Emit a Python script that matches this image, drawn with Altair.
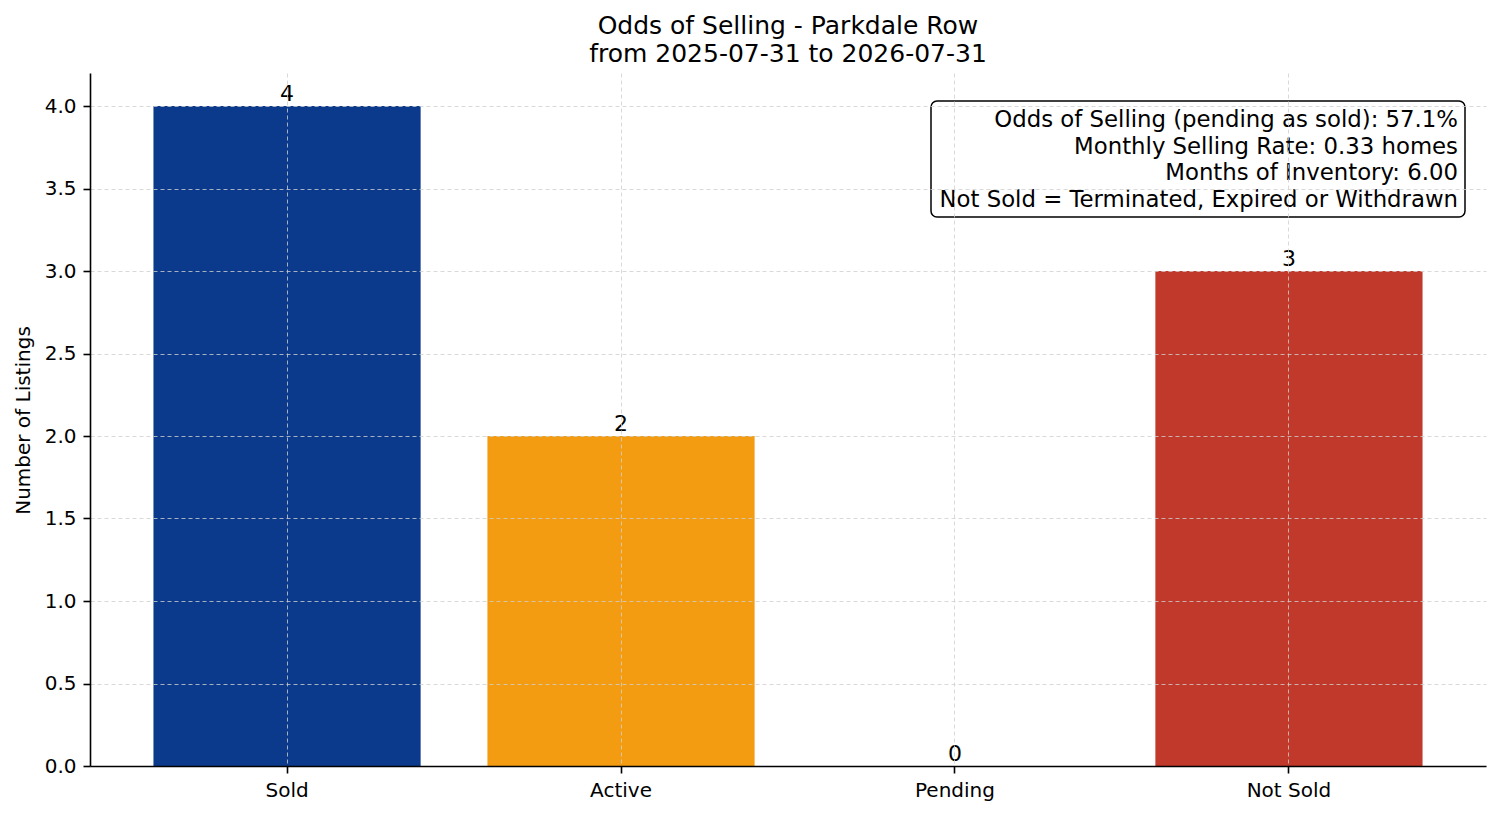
import altair as alt
import pandas as pd

categories = ["Sold", "Active", "Pending", "Not Sold"]
counts = [4, 2, 0, 3]
bar_colors = ["#0b3a8c", "#f39c12", "#f39c12", "#c0392b"]
y_ticks = [0.0, 0.5, 1.0, 1.5, 2.0, 2.5, 3.0, 3.5, 4.0]
title_lines = ["Odds of Selling - Parkdale Row", "from 2025-07-31 to 2026-07-31"]
box_lines = [
    "Odds of Selling (pending as sold): 57.1%",
    "Monthly Selling Rate: 0.33 homes",
    "Months of Inventory: 6.00",
    "Not Sold = Terminated, Expired or Withdrawn",
]

FONT = "DejaVu Sans"

df = pd.DataFrame({"status": categories, "count": counts})

x_enc = alt.X(
    "status:N",
    sort=categories,
    title=None,
    scale=alt.Scale(paddingInner=0.2, paddingOuter=0.19),
    axis=alt.Axis(
        labelAngle=0,
        labelFontSize=20,
        labelPadding=7,
        tickSize=7,
        tickWidth=1.6,
        tickColor="black",
        domainColor="black",
        domainWidth=1.6,
        grid=True,
        bandPosition=0.5,
        gridColor="#cfcfcf",
        gridDash=[4, 3],
        gridWidth=0.8,
        zindex=1,
    ),
)

y_enc = alt.Y(
    "count:Q",
    title="Number of Listings",
    scale=alt.Scale(domain=[0, 4.2], nice=False),
    axis=alt.Axis(
        values=y_ticks,
        format=".1f",
        labelFontSize=20,
        labelPadding=7,
        tickSize=7,
        tickWidth=1.6,
        tickColor="black",
        domainColor="black",
        domainWidth=1.6,
        gridColor="#cfcfcf",
        gridDash=[4, 3],
        gridWidth=0.8,
        titleFontSize=20,
        titleFontWeight="normal",
        titleX=-67,
        titleY=347,
        titleBaseline="middle",
        zindex=1,
    ),
)

bars = (
    alt.Chart(df)
    .mark_bar()
    .encode(
        x=x_enc,
        y=y_enc,
        color=alt.Color(
            "status:N",
            scale=alt.Scale(domain=categories, range=bar_colors),
            legend=None,
        ),
    )
)

labels = (
    alt.Chart(df)
    .mark_text(baseline="alphabetic", dy=-5, fontSize=22, font=FONT, color="black")
    .encode(x=alt.X("status:N", sort=categories), y="count:Q", text="count:Q")
)

box = (
    alt.Chart(pd.DataFrame({"k": [0]}))
    .mark_rect(fill="white", stroke="black", strokeWidth=1.5, cornerRadius=6)
    .encode(x=alt.value(841), x2=alt.value(1375), y=alt.value(28), y2=alt.value(144))
)

box_text = (
    alt.Chart(pd.DataFrame({"k": [0]}))
    .mark_text(
        text=box_lines,
        align="right",
        baseline="middle",
        fontSize=22.8,
        lineHeight=26.7,
        font=FONT,
        color="black",
    )
    .encode(x=alt.value(1368), y=alt.value(47))
)

chart = (
    alt.layer(bars, labels, box, box_text)
    .properties(
        width=1396,
        height=693,
        title=alt.TitleParams(
            text=title_lines,
            fontSize=25,
            fontWeight="normal",
            font=FONT,
            lineHeight=28,
            anchor="middle",
            offset=6,
            color="black",
        ),
        autosize=alt.AutoSizeParams(type="none"),
        padding={"left": 82, "top": 65, "right": 7, "bottom": 42},
    )
    .configure(font=FONT)
    .configure_axis(labelColor="black", titleColor="black", labelFont=FONT, titleFont=FONT)
    .configure_view(stroke=None)
)

chart.save("out.html", embed_options={"renderer": "svg", "actions": False})
